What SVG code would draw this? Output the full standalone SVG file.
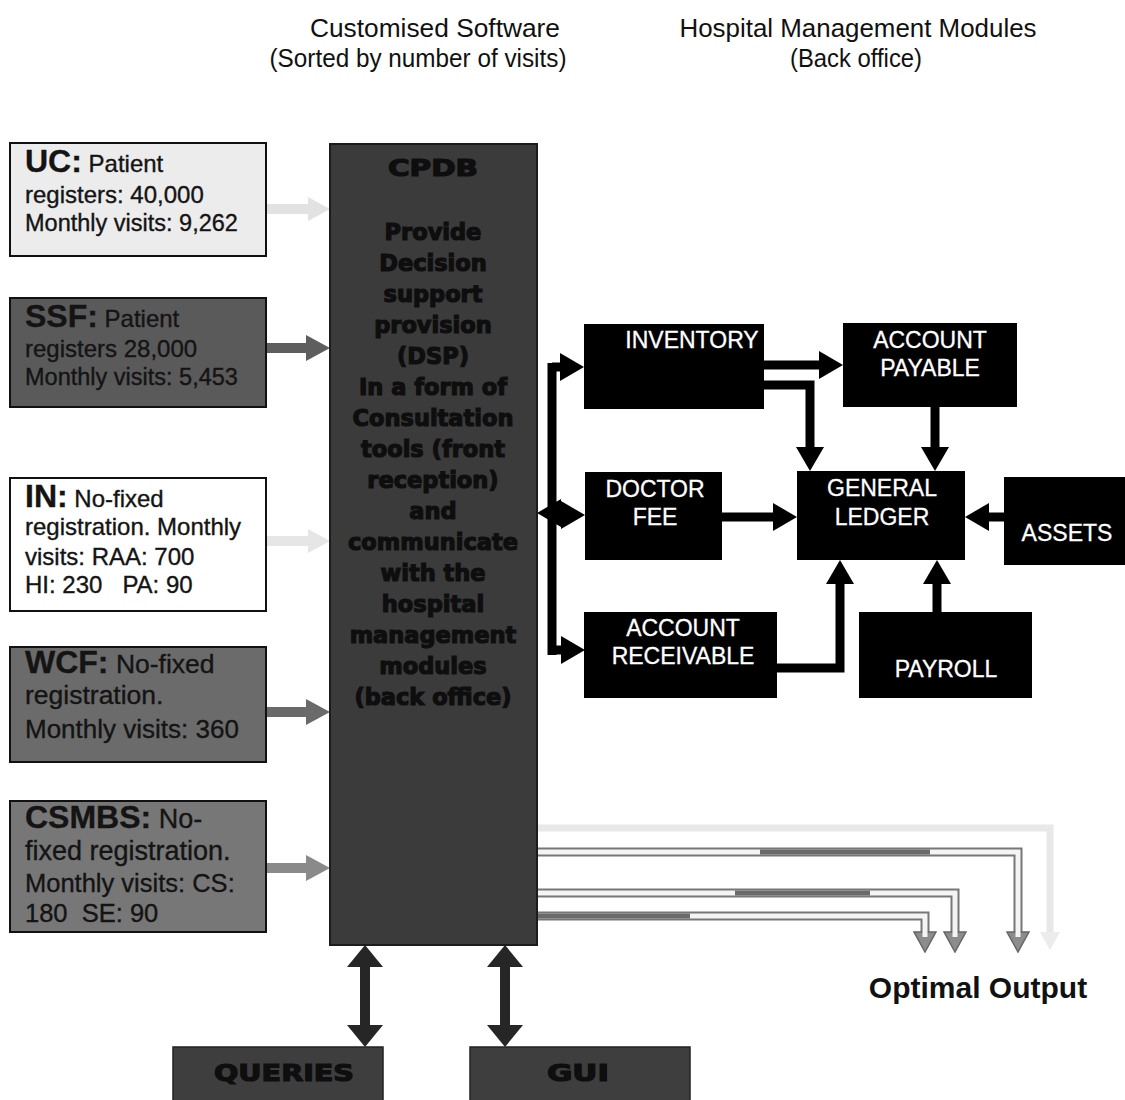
<svg xmlns="http://www.w3.org/2000/svg" width="1125" height="1100" viewBox="0 0 1125 1100">
  <style>
    .hdr { font-family: "Liberation Sans", Arial, sans-serif; font-size: 25px; fill: #111; text-anchor: middle; }
    .src { stroke: #111; stroke-width: 2; }
    .lbl text { font-family: "Liberation Sans", Arial, sans-serif; fill: #141414; stroke: #141414; stroke-width: 0.35; }
    .lbl .b { font-weight: bold; font-size: 32px; }
    .cpdb { font-family: "DejaVu Sans", "Liberation Sans", sans-serif; font-weight: bold; fill: #0e0e0e; stroke: #0e0e0e; stroke-width: 1.2; text-anchor: middle; font-size: 22.5px; }
    .mod rect { fill: #000; }
    .mod text { font-family: "Liberation Sans", Arial, sans-serif; font-size: 23px; fill: #fff; stroke: #fff; stroke-width: 0.3; text-anchor: middle; }
    .blk { fill: none; stroke: #000; stroke-width: 9; }
    .io { fill: none; stroke: #262626; stroke-width: 10; }
    .outA { fill: none; stroke: #777; stroke-width: 9; }
    .outB { fill: none; stroke: #f4f4f4; stroke-width: 5; }
    .outC { fill: none; stroke: #6a6a6a; stroke-width: 5; }
  </style>
  <defs>
    <marker id="ah" markerUnits="userSpaceOnUse" markerWidth="24" markerHeight="28" refX="11" refY="14" orient="auto-start-reverse">
      <path d="M0,0 L24,14 L0,28 z" fill="#000"/>
    </marker>
    <marker id="ahIO" markerUnits="userSpaceOnUse" markerWidth="22" markerHeight="36" refX="10" refY="18" orient="auto-start-reverse">
      <path d="M0,0 L22,18 L0,36 z" fill="#262626"/>
    </marker>
    <marker id="ahOut" markerUnits="userSpaceOnUse" markerWidth="22" markerHeight="24" refX="4" refY="12" orient="auto">
      <path d="M1,1 L21,12 L1,23 z" fill="#8c8c8c" stroke="#666" stroke-width="1.5"/>
    </marker>
  </defs>

  <rect width="1125" height="1100" fill="#fff"/>

  <!-- column headings -->
  <text class="hdr" x="435" y="37" textLength="250" lengthAdjust="spacingAndGlyphs">Customised Software</text>
  <text class="hdr" x="418" y="67" textLength="297" lengthAdjust="spacingAndGlyphs">(Sorted by number of visits)</text>
  <text class="hdr" x="858" y="37" textLength="357" lengthAdjust="spacingAndGlyphs">Hospital Management Modules</text>
  <text class="hdr" x="856" y="67" textLength="132" lengthAdjust="spacingAndGlyphs">(Back office)</text>

  <!-- connectors -->
  <g id="connectors">
    <!-- patient groups into CPDB (block arrows) -->
    <polygon points="266,204 308,204 308,197 330,209 308,221 308,214 266,214" fill="#e2e2e2"/>
    <polygon points="266,343 306,343 306,335 330,348 306,361 306,353 266,353" fill="#5e5e5e"/>
    <polygon points="266,536 308,536 308,529 330,541 308,553 308,546 266,546" fill="#e6e6e6"/>
    <polygon points="266,707 306,707 306,699 330,712 306,725 306,717 266,717" fill="#6a6a6a"/>
    <polygon points="266,863 306,863 306,855 330,868 306,881 306,873 266,873" fill="#8a8a8a"/>

    <!-- CPDB to back-office bus -->
    <path class="blk" d="M552,363 V655"/>
    <path class="blk" d="M560,513 H550" marker-end="url(#ah)"/>
    <path class="blk" d="M552,367 H571" marker-end="url(#ah)"/>
    <path class="blk" d="M552,515 H572" marker-end="url(#ah)"/>
    <path class="blk" d="M552,650 H572" marker-end="url(#ah)"/>

    <!-- back-office flows -->
    <path class="blk" d="M764,365 H830" marker-end="url(#ah)"/>
    <path class="blk" d="M764,385 H810 V458" marker-end="url(#ah)"/>
    <path class="blk" d="M935,407 V458" marker-end="url(#ah)"/>
    <path class="blk" d="M722,517 H784" marker-end="url(#ah)"/>
    <path class="blk" d="M1004,517 H978" marker-end="url(#ah)"/>
    <path class="blk" d="M777,668 H840 V573" marker-end="url(#ah)"/>
    <path class="blk" d="M937,612 V573" marker-end="url(#ah)"/>

    <!-- CPDB to queries / GUI -->
    <path class="io" d="M365,957 V1035" marker-start="url(#ahIO)" marker-end="url(#ahIO)"/>
    <path class="io" d="M505,957 V1035" marker-start="url(#ahIO)" marker-end="url(#ahIO)"/>

    <!-- optimal output flows -->
    <path d="M537,828 H1050 V935" fill="none" stroke="#e8e8e8" stroke-width="7"/>
    <polygon points="1040,932 1060,932 1050,950" fill="#ececec"/>

    <path class="outA" d="M537,852 H1018 V935" marker-end="url(#ahOut)"/>
    <path class="outB" d="M537,852 H1018 V937"/>
    <path class="outC" d="M760,852 H930"/>

    <path class="outA" d="M537,893 H955 V935" marker-end="url(#ahOut)"/>
    <path class="outB" d="M537,893 H955 V937"/>
    <path class="outC" d="M735,893 H870"/>

    <path class="outA" d="M537,916 H925 V935" marker-end="url(#ahOut)"/>
    <path class="outB" d="M537,916 H925 V937"/>
    <path class="outC" d="M537,916 H690"/>
  </g>

  <!-- patient groups -->
  <g id="uc" class="lbl">
    <rect class="src" x="10" y="143" width="256" height="113" fill="#ececec"/>
    <text x="25" y="172" font-size="24"><tspan class="b">UC:</tspan> Patient</text>
    <text x="25" y="203" font-size="24">registers: 40,000</text>
    <text x="25" y="231" font-size="23.5">Monthly visits: 9,262</text>
  </g>
  <g id="ssf" class="lbl">
    <rect class="src" x="10" y="298" width="256" height="109" fill="#5a5a5a"/>
    <text x="25" y="327" font-size="24"><tspan class="b">SSF:</tspan> Patient</text>
    <text x="25" y="357" font-size="24">registers 28,000</text>
    <text x="25" y="385" font-size="23.5">Monthly visits: 5,453</text>
  </g>
  <g id="in" class="lbl">
    <rect class="src" x="10" y="478" width="256" height="133" fill="#fff"/>
    <text x="25" y="507" font-size="24"><tspan class="b">IN:</tspan> No-fixed</text>
    <text x="25" y="535" font-size="24">registration. Monthly</text>
    <text x="25" y="565" font-size="24">visits: RAA: 700</text>
    <text x="25" y="593" font-size="24" xml:space="preserve">HI: 230   PA: 90</text>
  </g>
  <g id="wcf" class="lbl">
    <rect class="src" x="10" y="647" width="256" height="115" fill="#6b6b6b"/>
    <text x="25" y="673" font-size="26.5"><tspan class="b">WCF:</tspan> No-fixed</text>
    <text x="25" y="704" font-size="26.5">registration.</text>
    <text x="25" y="738" font-size="26">Monthly visits: 360</text>
  </g>
  <g id="csmbs" class="lbl">
    <rect class="src" x="10" y="801" width="256" height="131" fill="#777"/>
    <text x="25" y="828" font-size="27"><tspan class="b">CSMBS:</tspan> No-</text>
    <text x="25" y="860" font-size="27">fixed registration.</text>
    <text x="25" y="892" font-size="25.5">Monthly visits: CS:</text>
    <text x="25" y="922" font-size="25.5" xml:space="preserve">180  SE: 90</text>
  </g>

  <!-- central patient database -->
  <g id="cpdb">
    <rect x="330" y="144" width="207" height="801" fill="#3b3b3b" stroke="#1c1c1c" stroke-width="2"/>
    <text class="cpdb" x="433" y="176" font-size="29" textLength="90" lengthAdjust="spacingAndGlyphs">CPDB</text>
    <text class="cpdb" x="433" y="240">Provide</text>
    <text class="cpdb" x="433" y="271">Decision</text>
    <text class="cpdb" x="433" y="302">support</text>
    <text class="cpdb" x="433" y="333">provision</text>
    <text class="cpdb" x="433" y="364">(DSP)</text>
    <text class="cpdb" x="433" y="395">In a form of</text>
    <text class="cpdb" x="433" y="426">Consultation</text>
    <text class="cpdb" x="433" y="457">tools (front</text>
    <text class="cpdb" x="433" y="488">reception)</text>
    <text class="cpdb" x="433" y="519">and</text>
    <text class="cpdb" x="433" y="550">communicate</text>
    <text class="cpdb" x="433" y="581">with the</text>
    <text class="cpdb" x="433" y="612">hospital</text>
    <text class="cpdb" x="433" y="643">management</text>
    <text class="cpdb" x="433" y="674">modules</text>
    <text class="cpdb" x="433" y="705">(back office)</text>
  </g>

  <!-- back-office modules -->
  <g id="inventory" class="mod">
    <rect x="584" y="324" width="180" height="85"/>
    <text x="692" y="348">INVENTORY</text>
  </g>
  <g id="account-payable" class="mod">
    <rect x="843" y="323" width="174" height="84"/>
    <text x="930" y="348">ACCOUNT</text>
    <text x="930" y="376">PAYABLE</text>
  </g>
  <g id="doctor-fee" class="mod">
    <rect x="585" y="472" width="137" height="88"/>
    <text x="655" y="497">DOCTOR</text>
    <text x="655" y="525">FEE</text>
  </g>
  <g id="general-ledger" class="mod">
    <rect x="797" y="471" width="168" height="89"/>
    <text x="882" y="496">GENERAL</text>
    <text x="882" y="525">LEDGER</text>
  </g>
  <g id="assets" class="mod">
    <rect x="1004" y="477" width="121" height="88"/>
    <text x="1067" y="541">ASSETS</text>
  </g>
  <g id="account-receivable" class="mod">
    <rect x="584" y="612" width="193" height="86"/>
    <text x="683" y="636">ACCOUNT</text>
    <text x="683" y="664">RECEIVABLE</text>
  </g>
  <g id="payroll" class="mod">
    <rect x="859" y="612" width="173" height="86"/>
    <text x="946" y="677">PAYROLL</text>
  </g>

  <!-- query and interface blocks -->
  <g id="queries">
    <rect x="173" y="1047" width="210" height="60" fill="#3e3e3e" stroke="#222" stroke-width="1.5"/>
    <text class="cpdb" x="284" y="1081" font-size="31" textLength="140" lengthAdjust="spacingAndGlyphs">QUERIES</text>
  </g>
  <g id="gui">
    <rect x="470" y="1047" width="220" height="60" fill="#3e3e3e" stroke="#222" stroke-width="1.5"/>
    <text class="cpdb" x="578" y="1081" font-size="32" textLength="62" lengthAdjust="spacingAndGlyphs">GUI</text>
  </g>

  <text id="optimal-output" x="978" y="998" font-family="Liberation Sans, Arial, sans-serif" font-weight="bold" font-size="30" fill="#111" text-anchor="middle">Optimal Output</text>
</svg>
